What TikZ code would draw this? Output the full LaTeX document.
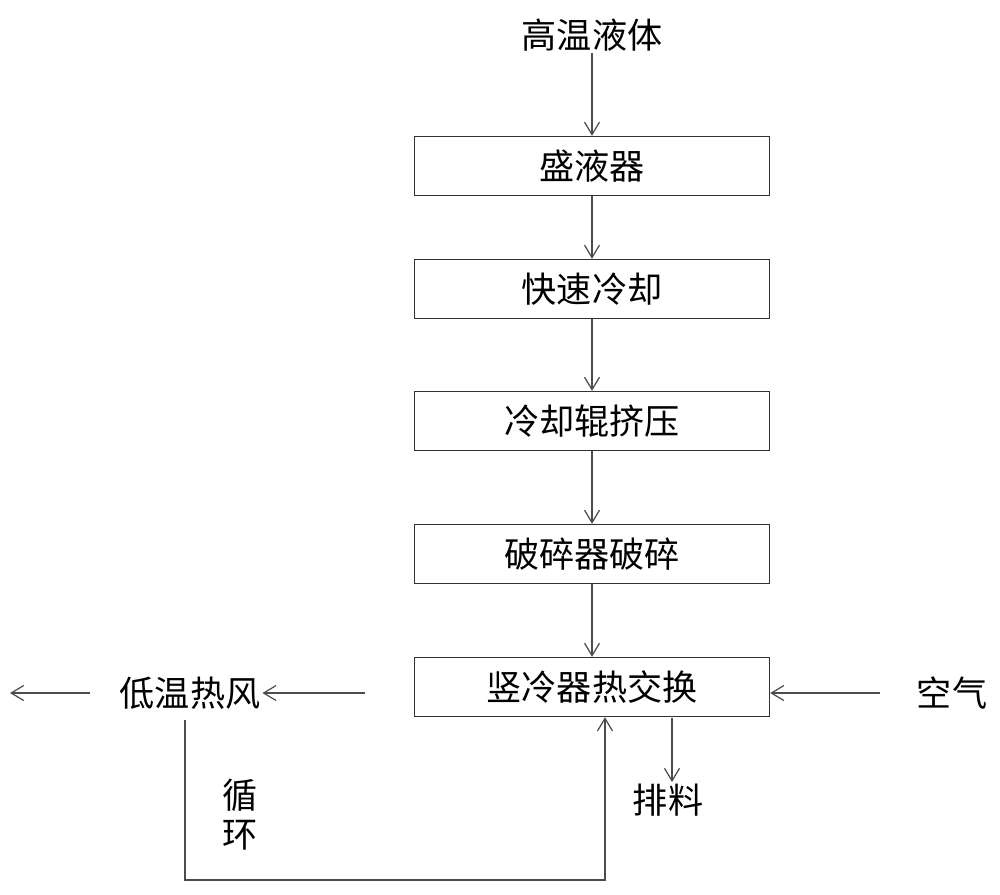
\documentclass[tikz,border=0pt]{standalone}
\usepackage{fontspec}
\newfontfamily\cjk{Noto Sans CJK SC}
\usetikzlibrary{arrows.meta,positioning}
\tikzset{
  stepbox/.style={draw=black!80, line width=0.8pt, minimum width=7.1cm, minimum height=1.18cm, inner sep=0pt},
  flow/.style={-{Straight Barb[length=2.5mm,width=3mm]}, draw=black!70, line width=0.7pt},
  txt/.style={inner sep=1pt}
}
\begin{document}
\begin{tikzpicture}[x=0.02cm,y=-0.02cm, font=\cjk\fontsize{20}{24}\selectfont]
  \useasboundingbox (0,0) rectangle (1000,894);

  % input
  \node[txt] (hot) at (592,35) {高温液体};

  % process chain
  \node[stepbox] (tank) at (592,166) {盛液器};
  \node[stepbox] (quench) at (592,289) {快速冷却};
  \node[stepbox] (roll) at (592,421) {冷却辊挤压};
  \node[stepbox] (crush) at (592,554) {破碎器破碎};
  \node[stepbox] (cooler) at (592,687) {竖冷器热交换};

  \draw[flow] (hot) -- (tank);
  \draw[flow] (tank) -- (quench);
  \draw[flow] (quench) -- (roll);
  \draw[flow] (roll) -- (crush);
  \draw[flow] (crush) -- (cooler);

  % air in, warm air out
  \node[txt] (air) at (952,693) {空气};
  \node[txt] (wind) at (190,693) {低温热风};
  \coordinate (airtail) at (880,693);
  \coordinate (windhead) at (365,693);
  \coordinate (outtip) at (10,693);
  \coordinate (outtail) at (90,693);
  \draw[flow] (airtail) -- (cooler.east |- airtail);
  \draw[flow] (windhead) -- (wind.east);
  \draw[flow] (outtail) -- (outtip);

  % discharge
  \coordinate (dtop) at (672,718);
  \node[txt] (out) at (668,800) {排料};
  \draw[flow] (dtop) -- (672,782);

  % recycle loop
  \coordinate (lstart) at (185,720);
  \coordinate (lcorner) at (185,880);
  \coordinate (rcorner) at (605,880);
  \draw[flow] (lstart) -- (lcorner) -- (rcorner) -- (cooler.south -| rcorner);
  \node[txt] (loop1) at (240,795) {循};
  \node[txt] (loop2) at (240,835) {环};
\end{tikzpicture}
\end{document}
